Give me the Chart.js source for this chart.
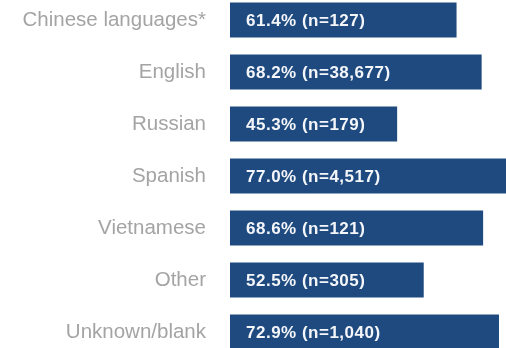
<!DOCTYPE html>
<html>
<head>
<meta charset="utf-8">
<script src="https://cdn.jsdelivr.net/npm/chart.js@4.4.1/dist/chart.umd.min.js"></script>
<style>
  html, body { margin: 0; padding: 0; background: #fff; }
  #wrap { position: relative; width: 506px; height: 348px; overflow: hidden; }
  #wrap canvas { position: absolute; left: 0; top: -6px; }
</style>
</head>
<body>
<div id="wrap"><canvas id="barChart" width="506" height="364"></canvas></div>
<script>
const categories = ['Chinese languages*', 'English', 'Russian', 'Spanish', 'Vietnamese', 'Other', 'Unknown/blank'];
const percentValues = [61.4, 68.2, 45.3, 77.0, 68.6, 52.5, 72.9];
const sampleSizes = ['127', '38,677', '179', '4,517', '121', '305', '1,040'];

const LABEL_FONT = '"Liberation Sans", Arial, sans-serif';

// draws the "xx.x% (n=...)" text inside each bar
const valueLabels = {
    id: 'valueLabels',
    afterDatasetsDraw(chart) {
        const ctx = chart.ctx;
        const meta = chart.getDatasetMeta(0);
        ctx.save();
        ctx.font = 'bold 17px ' + LABEL_FONT;
        ctx.letterSpacing = '0.5px';
        ctx.fillStyle = '#f4f6fa';
        ctx.textAlign = 'left';
        ctx.textBaseline = 'middle';
        meta.data.forEach((bar, i) => {
            const text = `${percentValues[i].toFixed(1)}% (n=${sampleSizes[i]})`;
            ctx.fillText(text, bar.base + 16, bar.y + 1);
        });
        ctx.restore();
    }
};

const ctx = document.getElementById('barChart').getContext('2d');
new Chart(ctx, {
    type: 'bar',
    data: {
        labels: categories,
        datasets: [{
            data: percentValues,
            backgroundColor: '#1e4a7f',
            borderWidth: 0,
            categoryPercentage: 1,
            barPercentage: 0.673
        }]
    },
    options: {
        indexAxis: 'y',
        responsive: false,
        animation: false,
        layout: { padding: 0 },
        plugins: {
            legend: { display: false },
            tooltip: { enabled: false }
        },
        scales: {
            x: {
                display: false,
                min: 0,
                max: 74.8
            },
            y: {
                grid: { display: false, drawTicks: false },
                border: { display: false },
                ticks: {
                    color: '#a4a4a4',
                    padding: 24,
                    font: { family: LABEL_FONT, size: 20.5 }
                },
                afterFit(scale) {
                    // fixed label column; no extra top/bottom padding so bands are 52px
                    scale.width = 230;
                    scale.paddingTop = 0;
                    scale.paddingBottom = 0;
                }
            }
        }
    },
    plugins: [valueLabels]
});
</script>
</body>
</html>
